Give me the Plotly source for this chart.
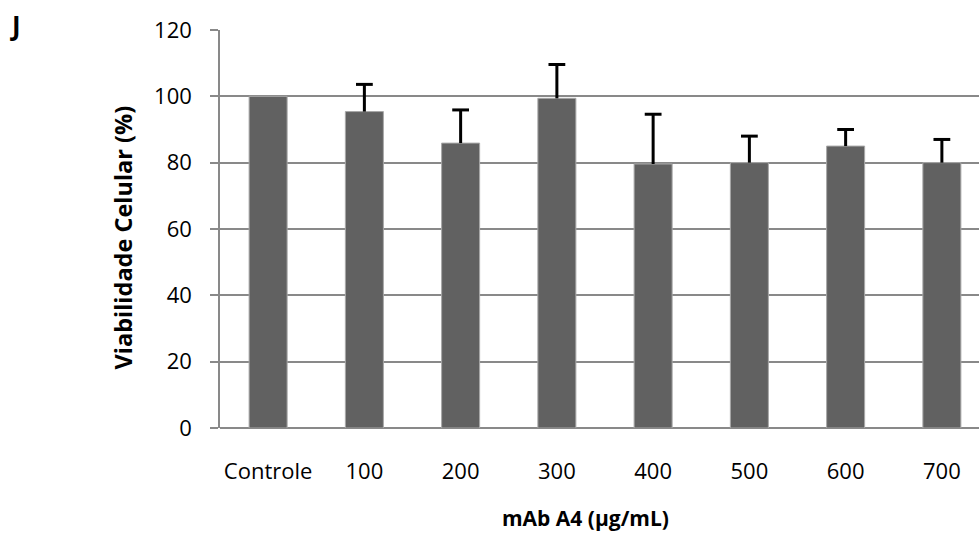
import plotly.graph_objects as go

categories = ["Controle", "100", "200", "300", "400", "500", "600", "700"]
viability = [100, 95.4, 85.9, 99.4, 79.6, 80.0, 85.0, 80.0]
error_plus = [0, 8.2, 10.0, 10.2, 15.0, 8.0, 5.0, 7.0]
y_ticks = [0, 20, 40, 60, 80, 100, 120]

W, H = 979, 535
L, R, T, B = 220, 0, 30, 107
pw, ph = W - L - R, H - T - B

def px(x):
    return (x - L) / pw

def py(y):
    return (H - B - y) / ph

FONT = "Open Sans"
GRID = "#898989"

fig = go.Figure()
fig.add_trace(go.Bar(
    x=categories,
    y=viability,
    marker=dict(color="#616161", line=dict(color="#a8a8a8", width=1)),
    width=0.395,
    showlegend=False,
    hoverinfo="skip",
))

# upward-only error bars: stems and caps from the data
stem_x, stem_y, cap_x, cap_y = [], [], [], []
for c, v, e in zip(categories, viability, error_plus):
    if e > 0:
        stem_x += [c, c, None]
        stem_y += [v, v + e, None]
        cap_x.append(c)
        cap_y.append(v + e)

fig.add_trace(go.Scatter(
    x=stem_x, y=stem_y, mode="lines",
    line=dict(color="#000000", width=3),
    showlegend=False, hoverinfo="skip",
))
fig.add_trace(go.Scatter(
    x=cap_x, y=cap_y, mode="markers",
    marker=dict(symbol="line-ew", size=12, line=dict(color="#000000", width=3)),
    showlegend=False, hoverinfo="skip",
))

fig.update_layout(
    width=W, height=H,
    margin=dict(l=L, r=R, t=T, b=B, pad=0),
    paper_bgcolor="white", plot_bgcolor="white",
    font=dict(family=FONT, size=22, color="#000000"),
    xaxis=dict(
        type="category",
        range=[-0.5, -0.5 + pw / 96.25],
        showgrid=False, showline=False, ticks="",
        ticklabelstandoff=28,
        tickfont=dict(size=22),
        zeroline=False,
    ),
    yaxis=dict(
        range=[0, 120], tickvals=y_ticks,
        showgrid=True, gridcolor=GRID, gridwidth=1.5,
        showline=True, linecolor=GRID, linewidth=1.5,
        ticks="outside", ticklen=8, tickcolor=GRID, tickwidth=1.5,
        ticklabelstandoff=14,
        zeroline=True, zerolinecolor=GRID, zerolinewidth=1.5,
        tickfont=dict(size=22),
    ),
    annotations=[
        dict(text="<b>Viabilidade Celular (%)</b>", xref="paper", yref="paper",
             x=px(122), y=py(237.5), xanchor="center", yanchor="middle",
             textangle=-90, showarrow=False, font=dict(size=23.5)),
        dict(text="<b>mAb A4 (µg/mL)</b>", xref="paper", yref="paper",
             x=px(585), y=py(518), xanchor="center", yanchor="middle",
             showarrow=False, font=dict(size=21)),
        dict(text="<b>J</b>", xref="paper", yref="paper",
             x=px(15.5), y=py(25), xanchor="center", yanchor="middle",
             showarrow=False, font=dict(size=26)),
    ],
)

fig.write_html(
    "out.html",
    config={"displayModeBar": False},
    post_script="document.body.style.margin='0';document.body.style.overflow='hidden';",
)
